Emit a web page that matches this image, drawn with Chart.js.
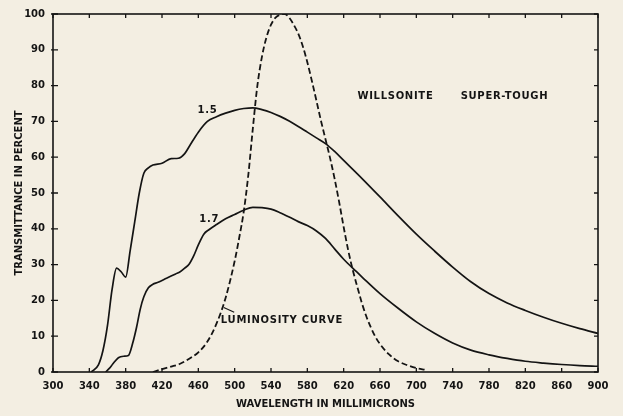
<!DOCTYPE html>
<html>
<head>
<meta charset="utf-8">
<script src="https://cdn.jsdelivr.net/npm/chart.js@4.4.1/dist/chart.umd.min.js"></script>
<style>
html,body{margin:0;padding:0;background:#f3eee2;}
canvas{display:block;}
</style>
</head>
<body>
<canvas id="c" width="623" height="416"></canvas>
<script>
// ---- Data ----
const wl15 = [342,350,355,360,365,370,375,380,385,390,395,400,405,410,420,430,438,445,450,460,470,480,490,500,510,520,530,540,550,560,570,580,590,600,610,620,640,660,680,700,720,740,760,780,800,820,840,860,880,900];
const t15  = [0,2,6,13,23,29,28,26.5,34,42,50,55.5,57,57.8,58.3,59.6,59.7,61,63,67,70,71.3,72.3,73.1,73.6,73.8,73.3,72.5,71.4,70.1,68.6,67,65.4,63.8,61.6,59.1,54.1,48.9,43.6,38.5,33.8,29.3,25.2,21.9,19.3,17.2,15.3,13.6,12.1,10.8];

const wl17 = [358,362,366,372,378,383,388,392,396,400,405,410,415,425,435,440,445,450,455,460,466,472,480,490,500,510,520,530,540,550,560,570,580,590,600,610,620,630,640,660,680,700,720,740,760,780,800,820,840,860,880,900];
const t17  = [0,1,2.3,4,4.4,4.6,8.3,12.5,17.5,21,23.5,24.5,25,26.2,27.4,28,29,30.2,32.5,35.5,38.5,39.8,41.2,42.8,44,45.2,46,45.9,45.5,44.5,43.3,42,40.9,39.4,37.3,34.4,31.5,29,26.6,21.9,17.8,14,10.8,8.1,6.1,4.8,3.8,3,2.5,2.1,1.8,1.6];

const wlLum = [410,420,430,440,450,460,470,480,490,500,505,510,515,520,525,530,535,540,545,550,555,560,565,570,575,580,585,590,595,600,605,610,615,620,625,630,635,640,645,650,655,660,670,680,690,700,710];
const tLum  = [0,0.8,1.5,2.3,3.7,5.5,8.5,13.5,20.7,31,37.5,44.8,55,68,80,88,93.5,97,99,99.8,100,99,97,94.5,91,86.5,81.3,75.8,70.2,65,59.8,54,47.5,40.5,34,28.5,23.8,19.3,15.5,12.4,9.8,7.8,4.9,3,1.9,1.1,0.6];

const xTicks = [300,340,380,420,460,500,540,580,620,660,700,740,780,820,860,900];
const yTicks = [0,10,20,30,40,50,60,70,80,90,100];

const labels = [
  {text:'1.5', x:470, y:73},
  {text:'1.7', x:472, y:42.7},
  {text:'WILLSONITE', x:677, y:76.9},
  {text:'SUPER-TOUGH', x:797, y:76.9},
  {text:'LUMINOSITY CURVE', x:552, y:14.3}
];

const pts = (xs, ys) => xs.map((x,i)=>({x:x, y:ys[i]}));
const INK = '#141414';
const FONT = '"DejaVu Sans", sans-serif';

const frameAndTicks = {
  id:'frameAndTicks',
  afterDatasetsDraw(chart){
    const {ctx, chartArea:a, scales:{x,y}} = chart;
    ctx.save();
    ctx.strokeStyle = INK;
    ctx.lineWidth = 1.6;
    ctx.strokeRect(a.left, a.top, a.right-a.left, a.bottom-a.top);
    ctx.lineWidth = 1.3;
    ctx.beginPath();
    xTicks.forEach(v=>{
      const px = x.getPixelForValue(v);
      ctx.moveTo(px, a.bottom); ctx.lineTo(px, a.bottom-4);
      ctx.moveTo(px, a.top); ctx.lineTo(px, a.top+4);
    });
    yTicks.forEach(v=>{
      const py = y.getPixelForValue(v);
      ctx.moveTo(a.left-2, py); ctx.lineTo(a.left+5, py);
      ctx.moveTo(a.right, py); ctx.lineTo(a.right-4, py);
    });
    ctx.stroke();
    // annotation texts
    ctx.fillStyle = INK;
    ctx.font = 'bold 10px ' + FONT;
    if ('letterSpacing' in ctx) ctx.letterSpacing = '0.7px';
    ctx.textAlign = 'center';
    ctx.textBaseline = 'middle';
    labels.forEach(l=>{
      ctx.fillText(l.text, x.getPixelForValue(l.x), y.getPixelForValue(l.y));
    });
    // leader from label to luminosity curve
    ctx.lineWidth = 1.2;
    ctx.beginPath();
    ctx.moveTo(x.getPixelForValue(488), y.getPixelForValue(18));
    ctx.lineTo(x.getPixelForValue(499.5), y.getPixelForValue(16.7));
    ctx.stroke();
    ctx.restore();
  }
};

new Chart(document.getElementById('c'), {
  type:'scatter',
  data:{
    datasets:[
      {label:'1.5', data:pts(wl15,t15), showLine:true, borderColor:INK, borderWidth:1.7, pointRadius:0, cubicInterpolationMode:'monotone'},
      {label:'1.7', data:pts(wl17,t17), showLine:true, borderColor:INK, borderWidth:1.7, pointRadius:0, cubicInterpolationMode:'monotone'},
      {label:'Luminosity curve', data:pts(wlLum,tLum), showLine:true, borderColor:INK, borderWidth:1.8, borderDash:[6,3], pointRadius:0, cubicInterpolationMode:'monotone'}
    ]
  },
  options:{
    responsive:false,
    animation:false,
    layout:{padding:{top:9,right:25,left:0,bottom:0}},
    plugins:{legend:{display:false}, tooltip:{enabled:false}},
    scales:{
      x:{
        type:'linear', min:300, max:900,
        afterBuildTicks(s){ s.ticks = xTicks.map(v=>({value:v})); },
        afterFit(s){ s.height = 44; },
        grid:{display:false, drawTicks:false},
        border:{display:false},
        ticks:{color:INK, padding:8, maxRotation:0, autoSkip:false, font:{family:FONT, size:10, weight:'bold'}},
        title:{display:true, text:'WAVELENGTH IN MILLIMICRONS', color:INK, padding:{top:0,bottom:6}, font:{family:FONT, size:10, weight:'bold'}}
      },
      y:{
        type:'linear', min:0, max:100,
        afterBuildTicks(s){ s.ticks = yTicks.map(v=>({value:v})); },
        afterFit(s){ s.width = 53; },
        grid:{display:false, drawTicks:false},
        border:{display:false},
        ticks:{color:INK, padding:8, font:{family:FONT, size:10, weight:'bold'}},
        title:{display:true, text:'TRANSMITTANCE IN PERCENT', color:INK, padding:{top:13,bottom:0}, font:{family:FONT, size:10, weight:'bold'}}
      }
    }
  },
  plugins:[frameAndTicks]
});
</script>
</body>
</html>
